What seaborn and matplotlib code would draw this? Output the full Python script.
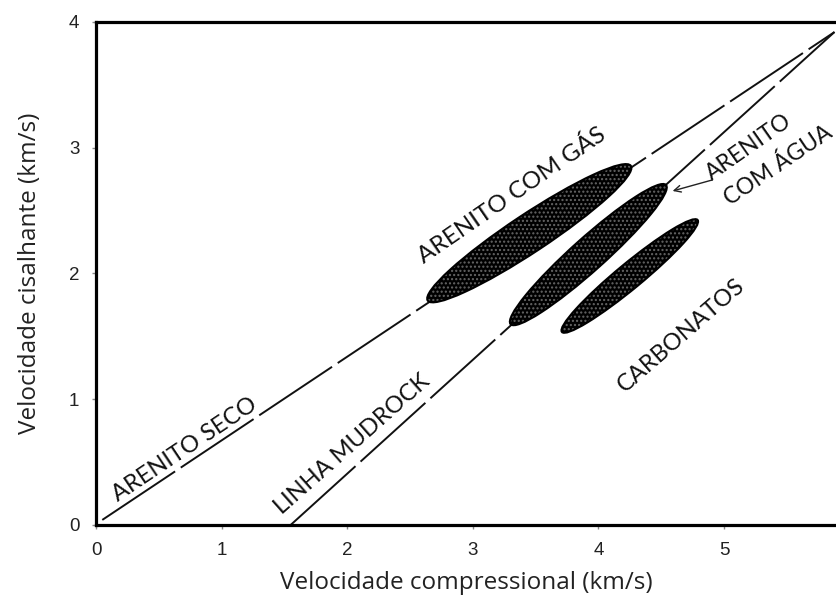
import numpy as np
import pandas as pd
import matplotlib
matplotlib.use("Agg")
import matplotlib.pyplot as plt
import seaborn as sns
from matplotlib.patches import Ellipse

# DATA

# trend lines: (Vp, Vs) end points, km/s
seco_vp = [0.05, 5.88]
seco_vs = [0.04, 3.92]
mudrock_vp = [1.55, 5.88]
mudrock_vs = [0.00, 3.92]

# fields: center Vp, center Vs, length, thickness, angle (deg)
field_names = ["gas", "agua", "carbonatos"]
field_vp = [3.45, 3.92, 4.25]
field_vs = [2.32, 2.15, 1.98]
field_len = [1.94, 1.66, 1.40]
field_thk = [0.30, 0.26, 0.20]
field_ang = [33.5, 41.8, 39.5]

# labels
label_text = ["ARENITO SECO", "LINHA MUDROCK", "ARENITO COM GÁS", "ARENITO", "COM ÁGUA", "CARBONATOS"]
label_vp = [0.71, 2.04, 3.31, 5.20, 5.43, 4.66]
label_vs = [0.60, 0.64, 2.62, 3.00, 2.86, 1.51]
label_rot = [33.8, 41.5, 34.5, 35.0, 34.0, 41.0]
label_size = [17, 17, 17.5, 16.5, 16.5, 17]

x_ticks = [0, 1, 2, 3, 4, 5]
y_ticks = [0, 1, 2, 3, 4]

sns.set_theme(style="white")
plt.rcParams["font.family"] = ["Liberation Sans", "DejaVu Sans"]

fig = plt.figure(figsize=(8.37, 6.02), dpi=100)
ax = fig.add_axes([0.1147, 0.128, 0.8853, 0.8355])

df_seco = pd.DataFrame({"Vp": seco_vp, "Vs": seco_vs})
df_mud = pd.DataFrame({"Vp": mudrock_vp, "Vs": mudrock_vs})
sns.lineplot(data=df_seco, x="Vp", y="Vs", ax=ax, color="#111", lw=1.4)
sns.lineplot(data=df_mud, x="Vp", y="Vs", ax=ax, color="#111", lw=1.4)
for ln in ax.lines:
    ln.set_dashes([45, 3.5])

# filled fields
for i in range(len(field_names)):
    e = Ellipse((field_vp[i], field_vs[i]), field_len[i], field_thk[i], angle=field_ang[i],
                facecolor="black", edgecolor="#666666", hatch="....", lw=0, zorder=3)
    ax.add_patch(e)
    e2 = Ellipse((field_vp[i], field_vs[i]), field_len[i], field_thk[i], angle=field_ang[i],
                 facecolor="none", edgecolor="black", lw=1.5, zorder=4)
    ax.add_patch(e2)

for t, xv, yv, r, fs in zip(label_text, label_vp, label_vs, label_rot, label_size):
    ax.text(xv, yv, t, rotation=r, rotation_mode="anchor", ha="center", va="center",
            fontsize=fs, family=["Lato", "DejaVu Sans"], color="#111")

ax.annotate("", xy=(4.57, 2.65), xytext=(4.93, 2.75),
            arrowprops=dict(arrowstyle="->", color="#222", lw=1.0))

ax.set_xlim(0, 5.9)
ax.set_ylim(0, 4)
ax.set_xticks(x_ticks)
ax.set_yticks(y_ticks)
ax.tick_params(axis="both", which="major", direction="out", length=3, width=1,
               color="#888", labelsize=13.5, labelcolor="#222", pad=9, bottom=True, left=True)

for s in ["left", "bottom", "top"]:
    ax.spines[s].set_linewidth(2.3)
    ax.spines[s].set_color("black")
ax.spines["right"].set_visible(False)

ax.set_xlabel("Velocidade compressional (km/s)", fontsize=17.5, family=["Open Sans", "DejaVu Sans"],
              color="#222", labelpad=9)
ax.set_ylabel("Velocidade cisalhante (km/s)", fontsize=17.5, family=["Open Sans", "DejaVu Sans"],
              color="#222", labelpad=19)

fig.savefig("out.png", dpi=100)
